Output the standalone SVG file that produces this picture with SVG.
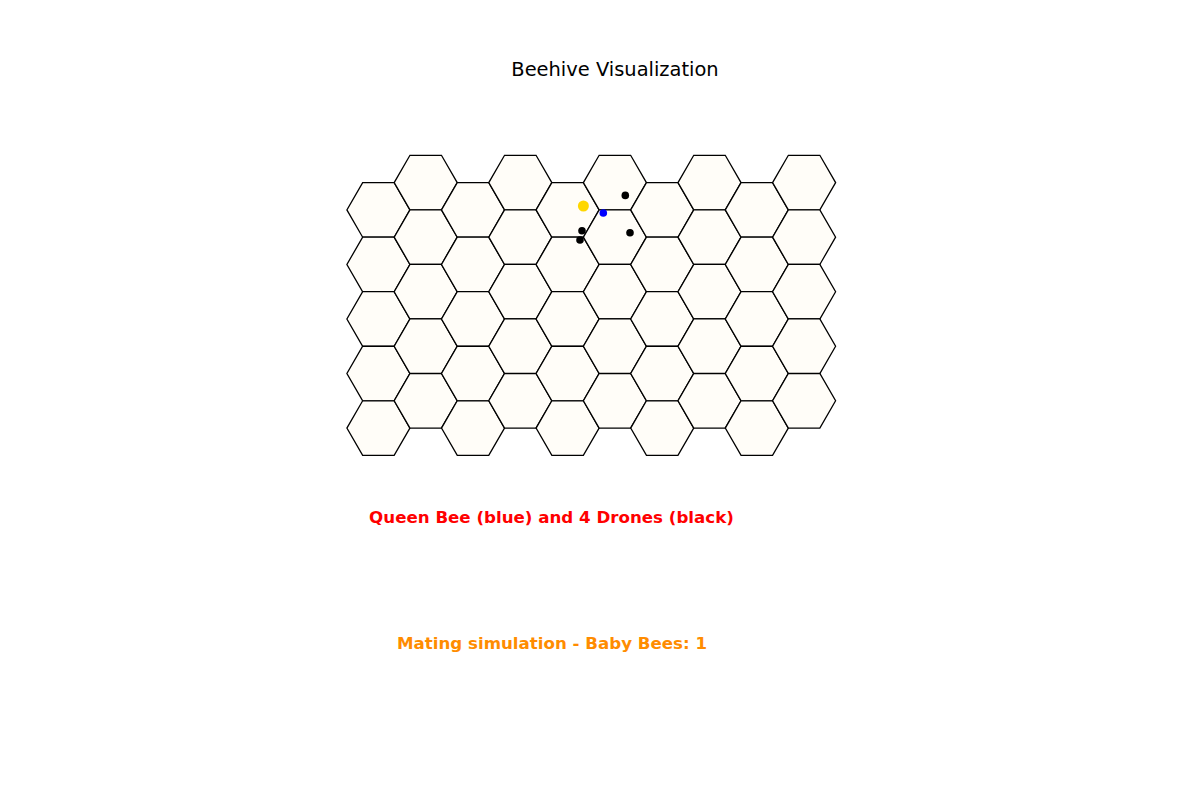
<svg xmlns="http://www.w3.org/2000/svg" xmlns:xlink="http://www.w3.org/1999/xlink" width="1200" height="800" viewBox="0 0 1200 800">
<style>
.cell{fill:#fffdf8;stroke:#000;stroke-width:1.3;stroke-linejoin:miter}
.t{font-family:"DejaVu Sans",sans-serif;text-anchor:middle}
.b{font-weight:bold;font-size:16.67px}
</style>
<defs>
<polygon id="hex" points="31.5,0 15.75,27.3 -15.75,27.3 -31.5,0 -15.75,-27.3 15.75,-27.3"/>
</defs>
<rect width="1200" height="800" fill="#fff"/>
<g id="hive">
<g id="c0"><use class="cell" href="#hex" x="378.4" y="209.9"/><use class="cell" href="#hex" x="378.4" y="264.45"/><use class="cell" href="#hex" x="378.4" y="319"/><use class="cell" href="#hex" x="378.4" y="373.55"/><use class="cell" href="#hex" x="378.4" y="428.1"/></g>
<g id="c1"><use class="cell" href="#hex" x="425.7" y="182.6"/><use class="cell" href="#hex" x="425.7" y="237.15"/><use class="cell" href="#hex" x="425.7" y="291.7"/><use class="cell" href="#hex" x="425.7" y="346.25"/><use class="cell" href="#hex" x="425.7" y="400.8"/></g>
<g id="c2"><use class="cell" href="#hex" x="473" y="209.9"/><use class="cell" href="#hex" x="473" y="264.45"/><use class="cell" href="#hex" x="473" y="319"/><use class="cell" href="#hex" x="473" y="373.55"/><use class="cell" href="#hex" x="473" y="428.1"/></g>
<g id="c3"><use class="cell" href="#hex" x="520.3" y="182.6"/><use class="cell" href="#hex" x="520.3" y="237.15"/><use class="cell" href="#hex" x="520.3" y="291.7"/><use class="cell" href="#hex" x="520.3" y="346.25"/><use class="cell" href="#hex" x="520.3" y="400.8"/></g>
<g id="c4"><use class="cell" href="#hex" x="567.6" y="209.9"/><use class="cell" href="#hex" x="567.6" y="264.45"/><use class="cell" href="#hex" x="567.6" y="319"/><use class="cell" href="#hex" x="567.6" y="373.55"/><use class="cell" href="#hex" x="567.6" y="428.1"/></g>
<g id="c5"><use class="cell" href="#hex" x="614.9" y="182.6"/><use class="cell" href="#hex" x="614.9" y="237.15"/><use class="cell" href="#hex" x="614.9" y="291.7"/><use class="cell" href="#hex" x="614.9" y="346.25"/><use class="cell" href="#hex" x="614.9" y="400.8"/></g>
<g id="c6"><use class="cell" href="#hex" x="662.2" y="209.9"/><use class="cell" href="#hex" x="662.2" y="264.45"/><use class="cell" href="#hex" x="662.2" y="319"/><use class="cell" href="#hex" x="662.2" y="373.55"/><use class="cell" href="#hex" x="662.2" y="428.1"/></g>
<g id="c7"><use class="cell" href="#hex" x="709.5" y="182.6"/><use class="cell" href="#hex" x="709.5" y="237.15"/><use class="cell" href="#hex" x="709.5" y="291.7"/><use class="cell" href="#hex" x="709.5" y="346.25"/><use class="cell" href="#hex" x="709.5" y="400.8"/></g>
<g id="c8"><use class="cell" href="#hex" x="756.8" y="209.9"/><use class="cell" href="#hex" x="756.8" y="264.45"/><use class="cell" href="#hex" x="756.8" y="319"/><use class="cell" href="#hex" x="756.8" y="373.55"/><use class="cell" href="#hex" x="756.8" y="428.1"/></g>
<g id="c9"><use class="cell" href="#hex" x="804.1" y="182.6"/><use class="cell" href="#hex" x="804.1" y="237.15"/><use class="cell" href="#hex" x="804.1" y="291.7"/><use class="cell" href="#hex" x="804.1" y="346.25"/><use class="cell" href="#hex" x="804.1" y="400.8"/></g>
</g>
<g id="bees">
<circle id="baby" cx="583.4" cy="206" r="5.5" fill="#ffd700"/>
<circle id="queen" cx="603.3" cy="213" r="3.8" fill="#0000ff"/>
<circle cx="625.3" cy="195.4" r="3.8" fill="#000"/>
<circle cx="582" cy="230.7" r="3.8" fill="#000"/>
<circle cx="580" cy="240" r="3.8" fill="#000"/>
<circle cx="630" cy="232.8" r="3.8" fill="#000"/>
</g>
<text class="t" x="615" y="76" font-size="19.44">Beehive Visualization</text>
<text class="t b" x="551.5" y="523.3" fill="#ff0000">Queen Bee (blue) and 4 Drones (black)</text>
<text class="t b" x="552" y="649" fill="#ff8c00">Mating simulation - Baby Bees: 1</text>
</svg>
